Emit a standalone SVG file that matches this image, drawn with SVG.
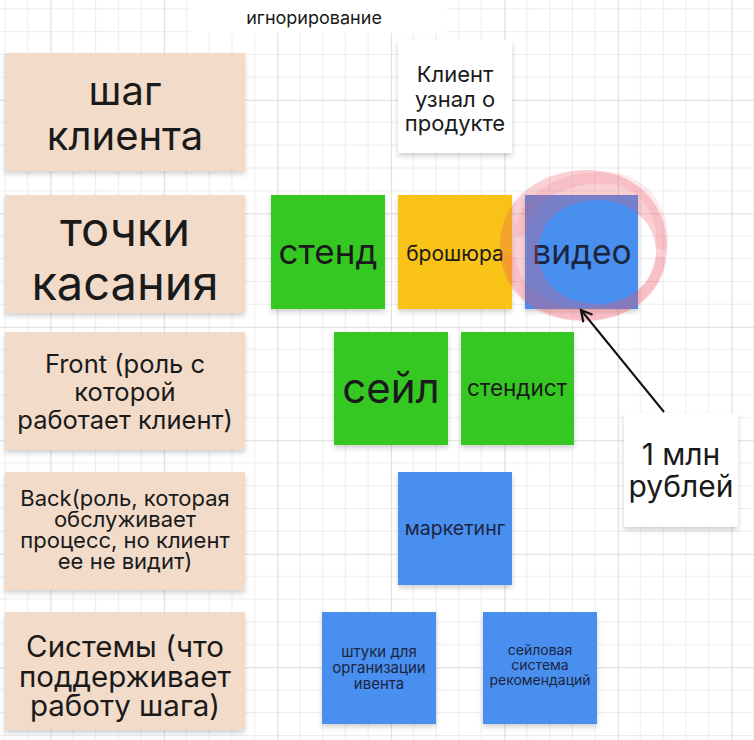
<svg xmlns="http://www.w3.org/2000/svg" width="754" height="740" viewBox="0 0 754 740">
  <defs>
    <pattern id="grid" patternUnits="userSpaceOnUse" x="50.3" y="99.8" width="113.5" height="113.5">
      <path d="M22.7 0V113.5M45.4 0V113.5M68.1 0V113.5M90.8 0V113.5M0 22.7H113.5M0 45.4H113.5M0 68.1H113.5M0 90.8H113.5" stroke="#ECECEC" stroke-width="1" fill="none"/>
      <path d="M0.5 0V113.5M0 0.5H113.5" stroke="#DCDCDC" stroke-width="1.2" fill="none"/>
    </pattern>
    <filter id="sh" x="-10%" y="-10%" width="125%" height="130%">
      <feDropShadow dx="0" dy="3" stdDeviation="2.5" flood-color="#000" flood-opacity="0.18"/>
    </filter>
    <marker id="arr" markerWidth="16" markerHeight="16" refX="13" refY="8" orient="auto" markerUnits="userSpaceOnUse">
      <path d="M2 2 L13 8 L2 14" fill="none" stroke="#111" stroke-width="2.2" stroke-linejoin="miter"/>
    </marker>
  </defs>
  <style>
    .lab{fill:#F2DBC9;filter:url(#sh)}
    .g{fill:#35C824;filter:url(#sh)}
    .y{fill:#F8C315;filter:url(#sh)}
    .b{fill:#4A8FEF;filter:url(#sh)}
    .w{fill:#FFFFFF;filter:url(#sh)}
    text{font-family:Inter,"Liberation Sans",sans-serif;fill:#1A1A1A;text-anchor:middle}
    .nt{fill:#1C2540}
  </style>
  <rect width="754" height="740" fill="#FFFFFF"/>
  <rect width="754" height="740" fill="url(#grid)"/>
  <rect x="190" y="0" width="257" height="33" fill="#FFFFFF"/>
  <text x="314" y="24" font-size="18" font-family="Roboto">игнорирование</text>

  <g id="label-step">
    <rect class="lab" x="5" y="53" width="240" height="118"/>
    <text x="125" y="105" font-size="40">шаг</text>
    <text x="125" y="150" font-size="40">клиента</text>
  </g>
  <g id="label-touch">
    <rect class="lab" x="5" y="195" width="240" height="118"/>
    <text x="125" y="246" font-size="47">точки</text>
    <text x="125" y="300" font-size="47">касания</text>
  </g>
  <g id="label-front">
    <rect class="lab" x="5" y="332" width="240" height="118"/>
    <text x="125" y="373" font-size="25.5">Front (роль с</text>
    <text x="125" y="401" font-size="25.5">которой</text>
    <text x="125" y="429" font-size="25.5">работает клиент)</text>
  </g>
  <g id="label-back">
    <rect class="lab" x="5" y="472" width="240" height="118"/>
    <text x="125" y="506" font-size="22">Back(роль, которая</text>
    <text x="125" y="527" font-size="22">обслуживает</text>
    <text x="125" y="548" font-size="22">процесс, но клиент</text>
    <text x="125" y="569" font-size="22">ее не видит)</text>
  </g>
  <g id="label-systems">
    <rect class="lab" x="5" y="612" width="240" height="118"/>
    <text x="125" y="657" font-size="29.5">Системы (что</text>
    <text x="125" y="687" font-size="29.5">поддерживает</text>
    <text x="125" y="716" font-size="29.5">работу шага)</text>
  </g>

  <g id="step-client">
    <rect class="w" x="398" y="40" width="114" height="113"/>
    <text x="455" y="82" font-size="22">Клиент</text>
    <text x="455" y="107" font-size="22">узнал о</text>
    <text x="455" y="131" font-size="22">продукте</text>
  </g>

  <g id="tp-stend">
    <rect class="g" x="271" y="195" width="114" height="114"/>
    <text x="328" y="264" font-size="35">стенд</text>
  </g>
  <g id="tp-brochure">
    <rect class="y" x="398" y="195" width="114" height="114"/>
    <text x="455" y="261" font-size="21">брошюра</text>
  </g>
  <g id="tp-video">
    <rect class="b" x="525" y="195" width="113" height="114"/>
    <text class="nt" x="582" y="264" font-size="33.5">видео</text>
  </g>

  <g id="highlight" fill="none">
    <path d="M583 170 C630 168 668 200 667 248 C666 292 630 322 583 321 C532 320 499 290 500 244 C501 200 538 172 583 170 Z M597 200 C630 200 656 222 656 252 C656 282 630 304 597 304 C563 304 538 282 538 252 C538 222 563 200 597 200 Z" fill="#EE5566" fill-opacity="0.28" fill-rule="evenodd"/>
    <path d="M520 230 C530 190 570 176 610 178 C645 182 664 212 662 244" stroke="#EE5566" stroke-opacity="0.12" stroke-width="12" stroke-linecap="round"/>
    <path d="M510 260 C515 295 550 316 590 314 C630 312 655 290 660 262" stroke="#EE5566" stroke-opacity="0.12" stroke-width="12" stroke-linecap="round"/>
  </g>

  <g id="fr-sale">
    <rect class="g" x="334" y="332" width="114" height="113"/>
    <text x="391" y="403" font-size="42">сейл</text>
  </g>
  <g id="fr-standist">
    <rect class="g" x="461" y="332" width="113" height="113"/>
    <text x="517" y="396" font-size="22.5">стендист</text>
  </g>

  <g id="bk-marketing">
    <rect class="b" x="398" y="472" width="114" height="113"/>
    <text class="nt" x="455" y="535" font-size="19.5">маркетинг</text>
  </g>

  <g id="sys-event">
    <rect class="b" x="322" y="612" width="114" height="112"/>
    <text class="nt" x="379" y="657" font-size="15">штуки для</text>
    <text class="nt" x="379" y="673" font-size="15">организации</text>
    <text class="nt" x="379" y="689" font-size="15">ивента</text>
  </g>
  <g id="sys-reco">
    <rect class="b" x="483" y="612" width="114" height="112"/>
    <text class="nt" x="540" y="655" font-size="14">сейловая</text>
    <text class="nt" x="540" y="670" font-size="14">система</text>
    <text class="nt" x="540" y="685" font-size="14">рекомендаций</text>
  </g>

  <g id="note-cost">
    <rect class="w" x="624" y="413" width="114" height="114"/>
    <text x="681" y="465" font-size="30">1 млн</text>
    <text x="681" y="497" font-size="30">рублей</text>
  </g>

  <g id="connectors">
    <line x1="664" y1="412" x2="581" y2="310" stroke="#111" stroke-width="2" marker-end="url(#arr)"/>
  </g>
</svg>
